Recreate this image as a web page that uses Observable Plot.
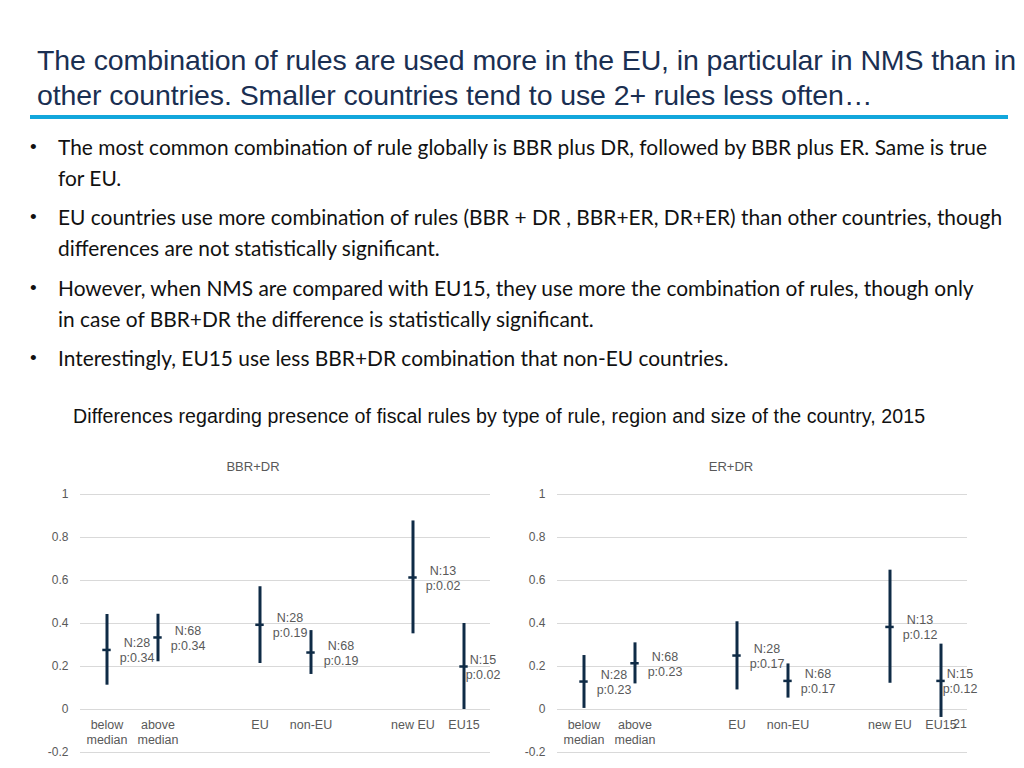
<!DOCTYPE html>
<html>
<head>
<meta charset="utf-8">
<script src="https://cdn.jsdelivr.net/npm/d3@7"></script>
<script src="https://cdn.jsdelivr.net/npm/@observablehq/plot@0.6"></script>
<style>
  html, body { margin: 0; padding: 0; background: #fff; }
  body { width: 1024px; height: 768px; position: relative; overflow: hidden; font-family: "Liberation Sans", Arial, sans-serif; }
  .abs { position: absolute; white-space: nowrap; }
  #title { left: 37px; top: 43px; font-size: 28.5px; line-height: 35px; color: #1a2f52; letter-spacing: -0.1px; }
  #rule { left: 30px; top: 115px; width: 978px; height: 4px; background: #12a7dc; }
  .bullet { left: 30px; font-family: Lato, "Open Sans", sans-serif; font-size: 20.9px; line-height: 31px; color: #111; }
  .bullet .dot { position: absolute; left: 0; top: 0; font-family: "Liberation Sans", Arial, sans-serif; font-size: 19px; }
  .bullet .txt { position: absolute; left: 28px; top: 0; }
  #ctitle { left: 73px; top: 405px; font-size: 19.6px; color: #111; letter-spacing: 0.1px; }
  .ptitle { top: 459px; font-size: 13px; color: #595959; transform: translateX(-50%); }
  .chart { position: absolute; top: 480px; }
  .chart svg { background: transparent !important; overflow: visible; }
  #slideno { left: 953px; top: 717px; font-size: 12.5px; color: #595959; }
</style>
</head>
<body>
<div id="title" class="abs">The combination of rules are used more in the EU, in particular in NMS than in<br>other countries. Smaller countries tend to use 2+ rules less often…</div>
<div id="rule" class="abs"></div>

<div class="abs bullet" style="top:131px"><span class="dot">•</span><span class="txt">The most common combination of rule globally is BBR plus DR, followed by BBR plus ER. Same is true<br>for EU.</span></div>
<div class="abs bullet" style="top:201px"><span class="dot">•</span><span class="txt">EU countries use more combination of rules (BBR + DR , BBR+ER, DR+ER) than other countries, though<br>differences are not statistically significant.</span></div>
<div class="abs bullet" style="top:272px"><span class="dot">•</span><span class="txt">However, when NMS are compared with EU15, they use more the combination of rules, though only<br>in case of BBR+DR the difference is statistically significant.</span></div>
<div class="abs bullet" style="top:342px"><span class="dot">•</span><span class="txt">Interestingly, EU15 use less BBR+DR combination that non-EU countries.</span></div>

<div id="ctitle" class="abs">Differences regarding presence of fiscal rules by type of rule, region and size of the country, 2015</div>
<div class="abs ptitle" style="left:253px">BBR+DR</div>
<div class="abs ptitle" style="left:731px">ER+DR</div>

<div id="left" class="chart" style="left:30px"></div>
<div id="right" class="chart" style="left:507px"></div>
<div id="slideno" class="abs">21</div>

<script>
// ---- data ----
const categories = ["below median", "above median", "EU", "non-EU", "new EU", "EU15"];
const categoryLabels = ["below\nmedian", "above\nmedian", "EU", "non-EU", "new EU", "EU15"];
const xSlots = ["below median", "above median", "gap1", "EU", "non-EU", "gap2", "new EU", "EU15"];
const yTicks = [-0.2, 0, 0.2, 0.4, 0.6, 0.8, 1];

const nValues = [28, 68, 28, 68, 13, 15];

const bbrdrMean = [0.277, 0.335, 0.394, 0.265, 0.614, 0.200];
const bbrdrLow  = [0.113, 0.222, 0.214, 0.163, 0.352, 0.000];
const bbrdrHigh = [0.442, 0.443, 0.571, 0.367, 0.877, 0.400];
const bbrdrP    = ["0.34", "0.34", "0.19", "0.19", "0.02", "0.02"];

const erdrMean = [0.130, 0.215, 0.251, 0.133, 0.384, 0.133];
const erdrLow  = [0.005, 0.119, 0.091, 0.053, 0.122, -0.037];
const erdrHigh = [0.251, 0.310, 0.408, 0.212, 0.648, 0.304];
const erdrP    = ["0.23", "0.23", "0.17", "0.17", "0.12", "0.12"];

const barColor = "#0f2b46";
const textColor = "#595959";

function rows(mean, low, high, p) {
  return categories.map((c, i) => ({
    cat: c, label: categoryLabels[i], mean: mean[i], low: low[i], high: high[i],
    note: `N:${nValues[i]}\np:${p[i]}`
  }));
}

function chart(data) {
  const last = data.length - 1;
  return Plot.plot({
    width: 500,
    height: 278,
    marginLeft: 50,
    marginRight: 40,
    marginTop: 14,
    marginBottom: 6,
    style: { fontFamily: "'Liberation Sans', Arial, sans-serif", fontSize: "12px", color: textColor, background: "transparent", overflow: "visible" },
    x: { type: "band", domain: xSlots, padding: 0, axis: null },
    y: { domain: [-0.2, 1], axis: null },
    marks: [
      Plot.ruleY(yTicks, { stroke: "#d9d9d9", strokeWidth: 1 }),
      Plot.axisY({ ticks: yTicks, tickSize: 0, tickPadding: 12, tickFormat: d => String(+d.toFixed(1)), fill: textColor, fontSize: 12 }),
      Plot.ruleX(data, { x: "cat", y1: "low", y2: "high", stroke: barColor, strokeWidth: 3 }),
      Plot.tickY(data, { x: "cat", y: "mean", stroke: barColor, strokeWidth: 2.5, insetLeft: 21.3, insetRight: 21.3 }),
      Plot.text(data, { x: "cat", y: () => 0, text: "label", lineAnchor: "top", dy: 9, fill: textColor, fontSize: 12.5, lineHeight: 1.2 }),
      Plot.text(data.filter((d, i) => i < last), { x: "cat", y: "mean", text: "note", dx: 30, fill: textColor, fontSize: 12.5, lineHeight: 1.2 }),
      Plot.text(data.filter((d, i) => i === last), { x: "cat", y: "mean", text: "note", dx: 19, fill: textColor, fontSize: 12.5, lineHeight: 1.2 })
    ]
  });
}

document.getElementById("left").append(chart(rows(bbrdrMean, bbrdrLow, bbrdrHigh, bbrdrP)));
document.getElementById("right").append(chart(rows(erdrMean, erdrLow, erdrHigh, erdrP)));
</script>
</body>
</html>
